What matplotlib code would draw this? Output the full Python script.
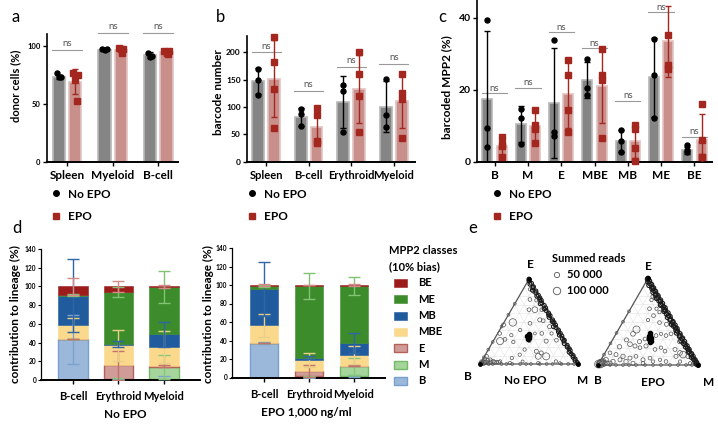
import numpy as np
import matplotlib
matplotlib.use('Agg')
import matplotlib.pyplot as plt
from matplotlib.patches import Rectangle

plt.rcParams['font.family'] = ['Lato', 'DejaVu Sans']

# ---------------- data ----------------
# panel a
a_cats = ['Spleen', 'Myeloid', 'B-cell']
a_noepo_mean = [73, 96.5, 92]
a_noepo_sd = [2, 0.6, 2.5]
a_noepo_pts = [[76, 73, 73], [97, 97, 96], [94, 91, 90]]
a_epo_mean = [69, 96.5, 94.5]
a_epo_sd = [11, 2, 1]
a_epo_pts = [[76, 75, 70, 52], [98, 97, 97, 94], [95, 95, 94, 93]]
a_ns = [96, 111, 111]

# panel b
b_cats = ['Spleen', 'B-cell', 'Erythroid', 'Myeloid']
b_noepo_mean = [147, 82, 109, 101]
b_noepo_sd = [24, 16, 47, 47]
b_noepo_pts = [[170, 150, 122], [97, 87, 65], [140, 130, 55], [152, 86, 63]]
b_epo_mean = [152, 63, 133, 111]
b_epo_sd = [71, 32, 62, 49]
b_epo_pts = [[229, 182, 133, 62], [98, 85, 37, 35], [200, 161, 120, 54], [161, 126, 115, 43]]
b_ns = [200, 130, 173, 179]

# panel c
c_cats = ['B', 'M', 'E', 'MBE', 'MB', 'ME', 'BE']
c_noepo_mean = [17.5, 10.5, 16.3, 22.8, 5.8, 23.5, 3.2]
c_noepo_sd = [19, 5, 15.3, 5, 3, 11, 1]
c_noepo_pts = [[39.3, 9.3, 4.2], [14.8, 12.3, 4.8], [34, 8.3, 7.1], [28.7, 20.6, 18.7],
               [8.8, 5.7, 2.6], [34.1, 24.1, 12.3], [4.6, 3.2, 2.8]]
c_epo_mean = [4.5, 9.8, 18.8, 21.2, 5.8, 33.5, 6]
c_epo_sd = [3, 4, 9.3, 10.5, 4.8, 9.8, 7.2]
c_epo_pts = [[7, 4.8, 4.5, 1.3], [14.3, 10.2, 9.1, 5.2], [28.2, 24.2, 14.5, 8.4],
             [31.5, 24.2, 22.6, 6.6], [10.2, 9.2, 3.9, 0.2], [35.3, 27, 25.8],
             [16, 6, 1.2, 1.2]]
c_ns = [19, 20.5, 36, 31.6, 17, 41.6, 7]

# panel d
d_lineages = ['B-cell', 'Erythroid', 'Myeloid']
d_classes = ['B', 'M', 'E', 'MBE', 'MB', 'ME', 'BE']
noepo_B = [43.5, 0.5, 1.5]
noepo_M = [0.3, 1.0, 12.5]
noepo_E = [0.0, 14.0, 1.0]
noepo_MBE = [15.0, 21.5, 20.5]
noepo_MB = [31.5, 1.5, 13.5]
noepo_ME = [1.0, 55.5, 50.0]
noepo_BE = [8.7, 6.0, 1.0]
noepo_err_B = [26, 1, 3]
noepo_err_M = [0.3, 1, 13]
noepo_err_E = [0, 16, 1]
noepo_err_MBE = [7.5, 16.5, 17]
noepo_err_MB = [39, 3.5, 13.5]
noepo_err_ME = [1, 5, 17]
noepo_err_BE = [9, 6, 2]

epo_B = [37.5, 0.5, 1.5]
epo_M = [0.0, 1.0, 10.5]
epo_E = [0.0, 5.5, 0.5]
epo_MBE = [19.0, 12.0, 12.0]
epo_MB = [39.5, 2.5, 13.0]
epo_ME = [2.5, 77.5, 61.2]
epo_BE = [1.5, 1.0, 1.3]
epo_err_B = [1, 0.5, 1]
epo_err_M = [0, 0.5, 9]
epo_err_E = [0, 6.5, 0.5]
epo_err_MBE = [12.5, 8, 10]
epo_err_MB = [29, 2, 11]
epo_err_ME = [1, 14, 10]
epo_err_BE = [1, 0.5, 1]

# panel e (compositions in % : B, M, E ; summed reads)
noepo_int_b = [5, 3, 11, 5, 18, 12, 5, 42, 53, 25, 13, 10, 2, 7, 39, 62, 51, 26, 19, 9, 66, 53, 60, 36, 19, 8,
               46, 35, 31, 36, 28, 54, 64, 89, 95, 87, 85, 82, 78, 69, 55, 40, 21, 18,
               98, 96, 93, 97, 90, 92, 88, 99, 94, 91, 84, 80]
noepo_int_m = [7, 12, 13, 20, 18, 24, 31, 9, 1, 27, 35, 39, 48, 49, 21, 2, 15, 38, 45, 55, 7, 21, 11, 37, 54, 64,
               37, 50, 56, 55, 63, 35, 29, 2, 2, 8, 12, 16, 19, 30, 42, 59, 76, 81,
               1, 3, 5, 0, 6, 2, 10, 0, 4, 8, 14, 18]
noepo_int_e = [88, 85, 76, 75, 64, 64, 64, 49, 46, 48, 52, 51, 50, 44, 40, 36, 34, 36, 36, 36, 27, 26, 29, 27, 27, 28,
               17, 15, 13, 9, 9, 11, 7, 9, 3, 5, 3, 2, 3, 1, 3, 1, 3, 1,
               1, 1, 2, 3, 4, 6, 2, 1, 2, 1, 2, 2]
noepo_int_reads = [20000, 15000, 25000, 20000, 25000, 60000, 25000, 100000, 30000, 25000, 30000, 25000, 20000,
                   30000, 20000, 25000, 20000, 15000, 25000, 20000, 90000, 20000, 25000, 15000, 30000, 25000,
                   20000, 30000, 30000, 60000, 90000, 20000, 20000, 30000, 25000, 25000, 30000, 25000, 20000,
                   20000, 15000, 20000, 20000, 15000,
                   30000, 25000, 40000, 20000, 30000, 25000, 35000, 20000, 30000, 25000, 30000, 25000]
noepo_em_e = [100, 98, 95, 94, 91, 90, 87, 86, 84, 81, 80, 78, 76, 75, 72, 71, 69, 66, 65, 63, 60, 58, 57, 55, 52,
              50, 49, 46, 44, 43, 40, 38, 36, 34, 33, 30, 28, 27, 24, 22, 20, 18, 16, 14, 12, 10, 8, 6, 4, 2, 0]
noepo_em_b = [0, 1, 0, 2, 0, 1, 3, 0, 1, 0, 2, 0, 1, 0, 1, 3, 0, 0, 2, 1, 0, 1, 0, 2, 0,
              1, 0, 0, 3, 1, 0, 1, 0, 2, 0, 1, 0, 1, 2, 0, 1, 0, 0, 2, 1, 0, 1, 0, 1, 0, 0]
noepo_bm_m = [4, 9, 13, 22, 27, 33, 41, 47, 52, 61, 68, 74, 83, 90, 96]
noepo_be_e = [8, 17, 26, 44, 58, 71]
noepo_core_b = [34, 36, 33, 35, 32, 36, 34, 35]
noepo_core_m = [33, 31, 34, 33, 33, 34, 35, 32]
noepo_core_e = [33, 33, 33, 32, 35, 30, 31, 33]

epo_int_b = [6, 9, 5, 16, 9, 16, 8, 24, 14, 8, 2, 1, 41, 47, 57, 45, 38, 25, 19, 15, 9, 5,
             68, 56, 52, 48, 41, 34, 27, 25, 14, 11, 9, 17, 5, 81, 76, 70, 64, 57, 52, 44, 35,
             93, 89, 83, 75, 70, 64, 54, 43, 30, 16, 7,
             99, 97, 95, 98, 96, 93, 90, 87]
epo_int_m = [15, 16, 18, 19, 26, 27, 31, 24, 37, 45, 46, 52, 18, 17, 14, 28, 32, 41, 45, 51, 55, 68,
             11, 20, 26, 32, 37, 48, 53, 59, 68, 75, 79, 73, 85, 5, 12, 20, 28, 33, 42, 48, 59,
             3, 5, 13, 19, 26, 34, 44, 53, 66, 80, 91,
             0, 2, 2, 1, 1, 5, 8, 11]
epo_int_e = [79, 75, 77, 65, 65, 57, 61, 52, 49, 47, 52, 47, 41, 36, 29, 27, 30, 34, 36, 34, 36, 27,
             21, 24, 22, 20, 22, 18, 20, 16, 18, 14, 12, 10, 10, 14, 12, 10, 8, 10, 6, 8, 6,
             4, 6, 4, 6, 4, 2, 2, 4, 4, 4, 2,
             1, 1, 3, 1, 3, 2, 2, 2]
epo_int_reads = [20000, 20000, 15000, 25000, 20000, 25000, 20000, 20000, 25000, 30000, 20000, 20000,
                 90000, 40000, 30000, 30000, 25000, 25000, 20000, 25000, 25000, 30000,
                 35000, 40000, 30000, 25000, 30000, 25000, 20000, 25000, 30000, 40000, 80000, 30000, 35000,
                 25000, 30000, 35000, 30000, 25000, 30000, 25000, 20000,
                 60000, 40000, 35000, 30000, 35000, 30000, 25000, 20000, 25000, 20000, 20000,
                 110000, 100000, 80000, 90000, 70000, 60000, 40000, 35000]
epo_em_e = [100, 99, 97, 96, 94, 93, 92, 90, 89, 88, 86, 85, 84, 82, 81, 80, 78, 77, 75, 74, 73, 71, 70, 69,
            67, 66, 64, 63, 62, 60, 59, 57, 56, 55, 53, 52, 50, 49, 47, 46, 45, 43, 42, 40, 39, 37, 36, 34,
            33, 31, 30, 28, 27, 25, 24, 22, 21, 19, 18, 16, 15, 13, 12, 10, 9, 7, 6, 4, 3, 1, 0]
epo_em_b = [0, 1, 0, 2, 1, 0, 3, 1, 0, 2, 1, 0, 3, 1, 2, 0, 1, 3, 0, 2, 1, 0, 2, 3,
            1, 0, 2, 1, 3, 0, 2, 1, 0, 3, 1, 2, 0, 1, 3, 0, 2, 1, 0, 2, 1, 3, 0, 1,
            2, 0, 1, 3, 0, 2, 1, 0, 2, 1, 0, 1, 2, 0, 1, 0, 2, 1, 0, 1, 0, 1, 0]
epo_bm_m = [6, 12, 18, 25, 31, 38, 47, 55, 63, 72, 80, 88, 94]
epo_be_e = [12, 25, 37, 50, 62]
epo_core_b = [30, 31, 34, 33, 35, 32, 33]
epo_core_m = [33, 35, 36, 39, 39, 37, 34]
epo_core_e = [37, 34, 30, 28, 26, 31, 33]

# ---------------- figure ----------------
W, H = 718, 426
fig = plt.figure(figsize=(W / 100, H / 100), dpi=100)


def rect(x0, y0, x1, y1):
    return [x0 / W, 1 - y1 / H, (x1 - x0) / W, (y1 - y0) / H]


def ftext(x, y, s, **kw):
    fig.text(x / W, 1 - y / H, s, **kw)


GRAY = '#858585'
GRAY_E = '#b8b8b8'
PINK = '#c98f8b'
PINK_E = '#e2c3c1'
RED = '#a3271f'


def bar_panel(r, cats, nm, nsd, npts, em, esd, epts, ns_y, ylim, yticks, off, width, xlim,
              tick_fs, jit=None, cat_fs=8.3, ns_off=0.015):
    ax = fig.add_axes(r)
    x = np.arange(len(cats))
    ax.bar(x - off, nm, width, color=GRAY, edgecolor=GRAY_E, lw=1.2, zorder=1)
    ax.bar(x + off, em, width, color=PINK, edgecolor=PINK_E, lw=1.2, zorder=1)
    ax.errorbar(x - off, nm, yerr=nsd, fmt='none', ecolor='black', elinewidth=1.0,
                capsize=2.5, capthick=1.0, zorder=3)
    ax.errorbar(x + off, em, yerr=esd, fmt='none', ecolor=RED, elinewidth=1.0,
                capsize=2.5, capthick=1.0, zorder=3)
    for i in range(len(cats)):
        p = npts[i]
        dx = np.zeros(len(p)) if jit is None else np.array(jit[:len(p)])
        ax.plot(x[i] - off + dx, p, 'o', color='black', ms=3.6, zorder=4, clip_on=False)
        p = epts[i]
        dx = np.zeros(len(p)) if jit is None else np.array(jit[:len(p)])
        ax.plot(x[i] + off + dx, p, 's', color=RED, ms=3.8, zorder=4, clip_on=False)
        ax.plot([x[i] - off - width * 0.55, x[i] + off + width * 0.55], [ns_y[i]] * 2,
                color='#9a9a9a', lw=0.8, clip_on=False)
        ax.text(x[i], ns_y[i] + ylim * ns_off, 'ns', ha='center', va='bottom', fontsize=7,
                color='#555555', clip_on=False)
    ax.set_xlim(*xlim)
    ax.set_ylim(0, ylim)
    ax.set_yticks(yticks)
    ax.set_yticklabels([str(t) for t in yticks], fontsize=tick_fs, fontweight='bold')
    ax.set_xticks(x)
    ax.set_xticklabels(cats, fontsize=cat_fs, fontweight='bold')
    ax.tick_params(axis='y', length=3, width=1, pad=1.5)
    ax.tick_params(axis='x', length=3, width=1, pad=3)
    for s in ['top', 'right']:
        ax.spines[s].set_visible(False)
    ax.spines['left'].set_linewidth(1.2)
    ax.spines['bottom'].set_linewidth(1.4)
    ax.set_facecolor('none')
    return ax


# panel a
bar_panel(rect(47, 34, 178, 161.7), a_cats, a_noepo_mean, a_noepo_sd, a_noepo_pts,
          a_epo_mean, a_epo_sd, a_epo_pts, a_ns, 110, [0, 50, 100], 0.18, 0.27,
          (-0.44, 2.43), 5.5, jit=[-0.05, 0.05, 0.0, 0.03], cat_fs=8.5)
# panel b
bar_panel(rect(247, 36, 415, 161.7), b_cats, b_noepo_mean, b_noepo_sd, b_noepo_pts,
          b_epo_mean, b_epo_sd, b_epo_pts, b_ns, 230, [0, 50, 100, 150, 200], 0.185, 0.28,
          (-0.45, 3.5), 6, cat_fs=8.0)
# panel c
bar_panel(rect(477, 0, 712, 161.7), c_cats, c_noepo_mean, c_noepo_sd, c_noepo_pts,
          c_epo_mean, c_epo_sd, c_epo_pts, c_ns, 45, [0, 20, 40], 0.216, 0.3,
          (-0.53, 6.53), 7.5, cat_fs=8.5, ns_off=0.004)

# panel letters
ftext(12, 17, 'a', fontsize=12, va='center', ha='left')
ftext(216, 17, 'b', fontsize=12, va='center', ha='left')
ftext(438, 17, 'c', fontsize=12, va='center', ha='left')
ftext(12, 228, 'd', fontsize=12, va='center', ha='left')
ftext(468, 228, 'e', fontsize=12, va='center', ha='left')

# y labels
ftext(16, 86, 'donor cells (%)', rotation=90, fontsize=8, fontweight='bold', ha='center', va='center')
ftext(219, 92, 'barcode number', rotation=90, fontsize=8.5, fontweight='bold', ha='center', va='center')
ftext(447, 87, 'barcoded MPP2 (%)', rotation=90, fontsize=8.5, fontweight='bold', ha='center', va='center')
ftext(15, 314, 'contribution to lineage (%)', rotation=90, fontsize=8.5, fontweight='bold',
      ha='center', va='center')
ftext(208, 314, 'contribution to lineage (%)', rotation=90, fontsize=8.5, fontweight='bold',
      ha='center', va='center')

# ---------- panel d ----------
seg_face = {'B': '#9bb8da', 'M': '#a6d59c', 'E': '#cf9c97', 'MBE': '#fbd98c',
            'MB': '#1f5b9d', 'ME': '#3c8c2b', 'BE': '#9c1c1c'}
seg_edge = {'B': '#77a0cf', 'M': '#72ba66', 'E': '#b5615a', 'MBE': '#fbd98c',
            'MB': '#1f5b9d', 'ME': '#3c8c2b', 'BE': '#9c1c1c'}
err_col = {'B': '#7ca3cf', 'M': '#86c67a', 'E': '#c2716b', 'MBE': '#e9cf8a',
           'MB': '#2f66a6', 'ME': '#82c474', 'BE': '#d58a88'}


def stack_panel(r, vals, errs, xlim, width):
    ax = fig.add_axes(r)
    x = np.arange(len(d_lineages))
    bottom = np.zeros(len(x))
    tops = {}
    for c in d_classes:
        v = np.array(vals[c], dtype=float)
        lw = 1.0 if c in ('B', 'M', 'E') else 0.4
        ax.bar(x, v, width, bottom=bottom, color=seg_face[c], edgecolor=seg_edge[c], lw=lw, zorder=1)
        bottom = bottom + v
        tops[c] = bottom.copy()
    for c in d_classes:
        ax.errorbar(x, tops[c], yerr=errs[c], fmt='none', ecolor=err_col[c], elinewidth=1.0,
                    capsize=4.5, capthick=1.0, zorder=3)
    ax.set_xlim(*xlim)
    ax.set_ylim(0, 140)
    ax.set_yticks(range(0, 141, 20))
    ax.set_yticklabels([str(t) for t in range(0, 141, 20)], fontsize=4.8, fontweight='bold')
    ax.set_xticks(x)
    ax.set_xticklabels(d_lineages, fontsize=8.0, fontweight='bold')
    ax.tick_params(axis='y', length=2, width=0.8, pad=1.5)
    ax.tick_params(axis='x', length=3, width=1, pad=5)
    for s in ['top', 'right']:
        ax.spines[s].set_visible(False)
    ax.spines['left'].set_linewidth(0.9)
    ax.spines['bottom'].set_linewidth(1.4)
    ax.set_facecolor('none')
    return ax


noepo_vals = {'B': noepo_B, 'M': noepo_M, 'E': noepo_E, 'MBE': noepo_MBE, 'MB': noepo_MB,
              'ME': noepo_ME, 'BE': noepo_BE}
noepo_errs = {'B': noepo_err_B, 'M': noepo_err_M, 'E': noepo_err_E, 'MBE': noepo_err_MBE,
              'MB': noepo_err_MB, 'ME': noepo_err_ME, 'BE': noepo_err_BE}
epo_vals = {'B': epo_B, 'M': epo_M, 'E': epo_E, 'MBE': epo_MBE, 'MB': epo_MB,
            'ME': epo_ME, 'BE': epo_BE}
epo_errs = {'B': epo_err_B, 'M': epo_err_M, 'E': epo_err_E, 'MBE': epo_err_MBE,
            'MB': epo_err_MB, 'ME': epo_err_ME, 'BE': epo_err_BE}

stack_panel(rect(41, 249, 200, 380), noepo_vals, noepo_errs, (-0.7, 2.79), 0.65)
stack_panel(rect(232, 248, 385, 377.5), epo_vals, epo_errs, (-0.71, 2.69), 0.63)
ftext(125, 414, 'No EPO', fontsize=8.5, fontweight='bold', ha='center', va='center')
ftext(306, 413, 'EPO 1,000 ng/ml', fontsize=8.5, fontweight='bold', ha='center', va='center')

# overlay axes in pixel coords for legends
ov = fig.add_axes([0, 0, 1, 1])
ov.set_xlim(0, W)
ov.set_ylim(H, 0)
ov.axis('off')

for lx in (56, 252, 497):
    ov.plot([lx], [193], 'o', color='black', ms=4)
    ov.plot([lx], [216], 's', color=RED, ms=4.2)
    ov.text(lx + 12, 194, 'No EPO', fontsize=8.5, fontweight='bold', va='center', ha='left')
    ov.text(lx + 12, 217, 'EPO', fontsize=8.5, fontweight='bold', va='center', ha='left')

# panel d legend
ov.text(389, 251, 'MPP2 classes', fontsize=8, fontweight='bold', va='center', ha='left')
ov.text(389, 267, '(10% bias)', fontsize=8, fontweight='bold', va='center', ha='left')
leg_rows = ['BE', 'ME', 'MB', 'MBE', 'E', 'M', 'B']
for i, c in enumerate(leg_rows):
    yy = 283 + i * 16.3
    lw = 1.0 if c in ('B', 'M', 'E') else 0.4
    ov.add_patch(Rectangle((394, yy - 4), 13, 8, facecolor=seg_face[c], edgecolor=seg_edge[c], lw=lw))
    ov.text(418, yy, c, fontsize=8, fontweight='bold', va='center', ha='left')

# ---------- panel e (ternary) ----------
S3 = np.sqrt(3) / 2


def txy(b, m, e):
    b = np.asarray(b, float); m = np.asarray(m, float); e = np.asarray(e, float)
    t = b + m + e
    m = m / t; e = e / t
    return m + e / 2, e * S3


def ternary(r, xlim, ylim, ib, im, ie, ireads, em_e, em_b, bm_m, be_e, cb, cm, ce, edge_s):
    ax = fig.add_axes(r)
    ax.set_xlim(*xlim)
    ax.set_ylim(*ylim)
    ax.axis('off')
    for k in np.arange(0.1, 1.0, 0.1):
        ax.plot([k / 2, 1 - k / 2], [k * S3, k * S3], color='#e3e3e3', lw=0.4, zorder=0)
        ax.plot([k, k / 2], [0, k * S3], color='#e3e3e3', lw=0.4, zorder=0)
        ax.plot([k, (1 + k) / 2], [0, (1 - k) * S3], color='#e3e3e3', lw=0.4, zorder=0)
    ax.plot([0, 1, 0.5, 0], [0, 0, S3, 0], color='#555555', lw=0.9, zorder=1)
    ec = '#555555'
    x, y = txy(ib, im, ie)
    ax.scatter(x, y, s=np.array(ireads) / 3500, facecolors='none', edgecolors=ec, lw=0.5, zorder=2)
    eb = np.array(em_b, float); ee = np.array(em_e, float)
    x, y = txy(eb, 100 - eb - ee, ee)
    ax.scatter(x, y, s=edge_s, facecolors='none', edgecolors='#1a1a1a', lw=0.8, zorder=2)
    mm = np.array(bm_m, float)
    x, y = txy(100 - mm, mm, np.zeros_like(mm))
    ax.scatter(x, y, s=4, facecolors='none', edgecolors=ec, lw=0.5, zorder=2)
    ee = np.array(be_e, float)
    x, y = txy(100 - ee, np.zeros_like(ee), ee)
    ax.scatter(x, y, s=4, facecolors='none', edgecolors=ec, lw=0.5, zorder=2)
    x, y = txy(cb, cm, ce)
    ax.scatter(x, y, s=9, color='black', zorder=3)
    ax.scatter([0, 1, 0.5], [0, 0, S3], s=6, color='black', zorder=3)
    return ax


ternary(rect(470, 268, 588, 374), (-10 / 98, 1 + 10 / 98), (-10 / 98, 96 / 98),
        noepo_int_b, noepo_int_m, noepo_int_e, noepo_int_reads, noepo_em_e, noepo_em_b,
        noepo_bm_m, noepo_be_e, noepo_core_b, noepo_core_m, noepo_core_e, 8)
ternary(rect(588, 268, 708, 375), (-0.1, 1.1), (-0.1, 0.97),
        epo_int_b, epo_int_m, epo_int_e, epo_int_reads, epo_em_e, epo_em_b,
        epo_bm_m, epo_be_e, epo_core_b, epo_core_m, epo_core_e, 10)

for (xx, yy, s) in [(530, 264, 'E'), (468, 376, 'B'), (583, 380, 'M'), (648, 266, 'E'),
                    (598, 380, 'B'), (709, 382, 'M')]:
    ov.text(xx, yy, s, fontsize=8.5, fontweight='bold', ha='center', va='center')
ov.text(525, 381, 'No EPO', fontsize=8.5, fontweight='bold', ha='center', va='center')
ov.text(653, 382, 'EPO', fontsize=8.5, fontweight='bold', ha='center', va='center')
ov.text(552, 258, 'Summed reads', fontsize=8, fontweight='bold', ha='left', va='center')
ov.scatter([557], [275], s=50000 / 3500, facecolors='none', edgecolors='#555555', lw=0.6)
ov.scatter([557], [291], s=100000 / 3500, facecolors='none', edgecolors='#555555', lw=0.6)
ov.text(567, 275, '50 000', fontsize=8, fontweight='bold', ha='left', va='center')
ov.text(567, 291, '100 000', fontsize=8, fontweight='bold', ha='left', va='center')

fig.savefig('out.png', dpi=100)
